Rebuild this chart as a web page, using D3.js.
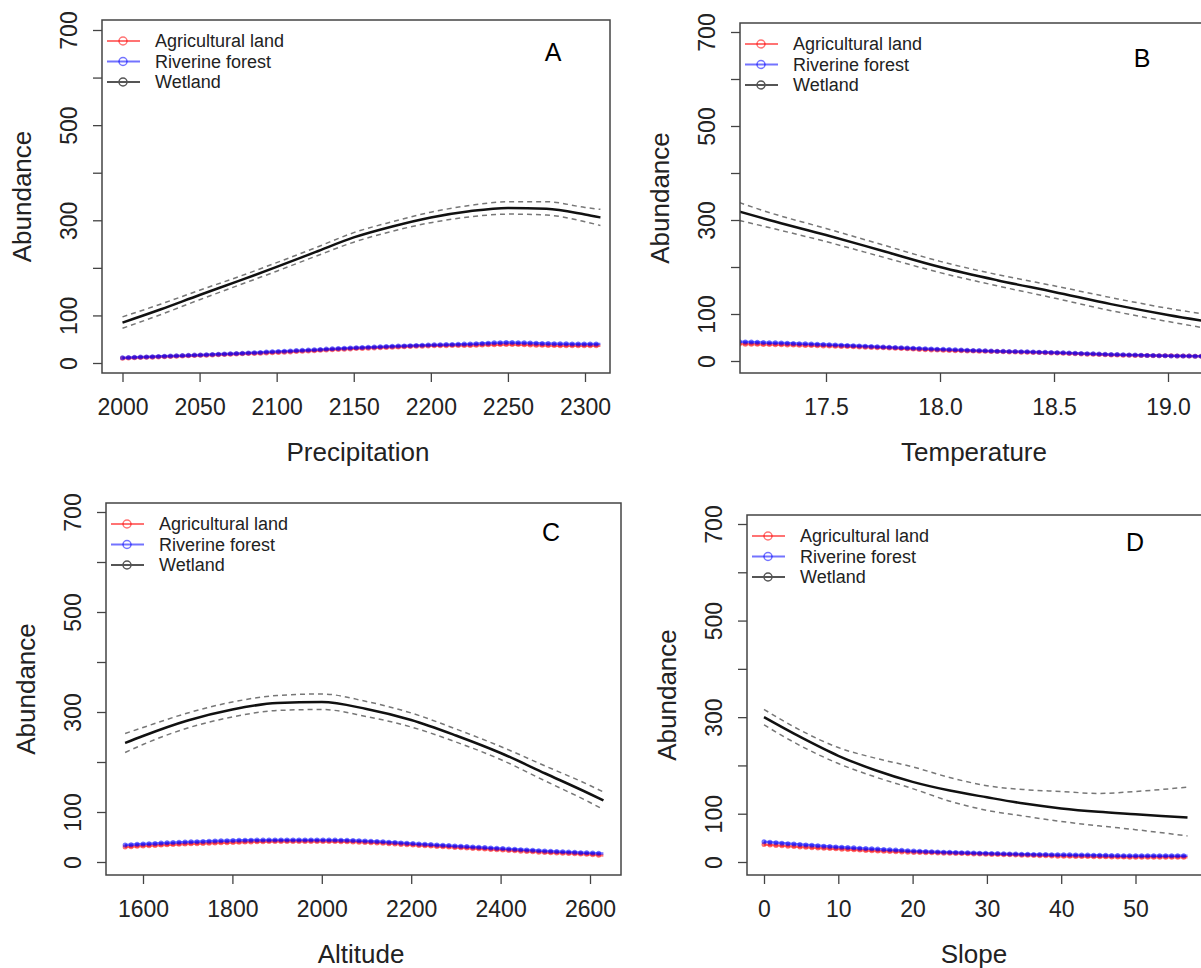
<!DOCTYPE html>
<meta charset="utf-8">
<style>
body { margin: 0; background: #fff; }
text { font-family: "Liberation Sans", Arial, sans-serif; fill: #222; }
.tick line { stroke: #444; stroke-width: 1.3px; }
.frame { fill: none; stroke: #444; stroke-width: 1.5px; }
.ci { fill: none; stroke: #777; stroke-width: 1.5px; stroke-dasharray: 5,4; }
.wet { fill: none; stroke: #111; stroke-width: 2.5px; }
</style>
<svg width="1201" height="968"></svg>
<script src="https://cdn.jsdelivr.net/npm/d3@7"></script>
<script>

var legendLabels = ["Agricultural land", "Riverine forest", "Wetland"];
var yTicks = [0, 100, 200, 300, 400, 500, 600, 700];
var yTickLabels = ["0", "100", "", "300", "", "500", "", "700"];

// A - precipitation
var precipX = [2000, 2025, 2050, 2075, 2100, 2125, 2150, 2175, 2200, 2225, 2250, 2275, 2300, 2310];
var precipAgri = [10, 13, 16, 19, 22, 26, 30, 33, 36, 37, 39, 37, 36, 36];
var precipRiver = [11, 14, 17, 20, 24, 28, 32, 35, 38, 40, 43, 41, 40, 40];
var precipWet = [85, 113, 143, 172, 202, 233, 264, 287, 306, 319, 326, 324, 312, 306];
var precipWetLo = [73, 102, 133, 163, 193, 224, 254, 277, 295, 307, 313, 311, 297, 289];
var precipWetHi = [97, 124, 153, 181, 211, 242, 274, 297, 317, 331, 339, 339, 327, 323];
var precipTicks = [2000, 2050, 2100, 2150, 2200, 2250, 2300];

// B - temperature
var tempX = [17.12, 17.25, 17.5, 17.75, 18.0, 18.25, 18.5, 18.75, 19.0, 19.2];
var tempAgri = [36, 35, 32, 28, 23, 20, 17, 13, 11, 10];
var tempRiver = [41, 39, 35, 30, 25, 21, 18, 14, 11, 10];
var tempWet = [318, 300, 268, 234, 200, 172, 147, 121, 98, 82];
var tempWetLo = [299, 284, 254, 221, 188, 160, 134, 107, 84, 67];
var tempWetHi = [337, 316, 282, 247, 212, 184, 160, 135, 112, 97];
var tempTicks = [17.5, 18.0, 18.5, 19.0];

// C - altitude
var altX = [1560, 1600, 1700, 1800, 1900, 2000, 2100, 2200, 2300, 2400, 2500, 2600, 2630];
var altAgri = [30, 32, 36, 39, 41, 41, 39, 34, 29, 24, 19, 15, 13];
var altRiver = [34, 36, 40, 43, 44, 44, 42, 37, 32, 27, 22, 18, 17];
var altWet = [238, 252, 283, 305, 318, 320, 306, 284, 253, 218, 177, 136, 123];
var altWetLo = [219, 235, 268, 290, 303, 305, 291, 270, 240, 205, 162, 119, 105];
var altWetHi = [257, 269, 298, 320, 333, 336, 321, 298, 266, 231, 192, 153, 140];
var altTicks = [1600, 1800, 2000, 2200, 2400, 2600];

// D - slope
var slopeX = [0, 5, 10, 15, 20, 25, 30, 35, 40, 45, 50, 57];
var slopeAgri = [36, 31, 27, 23, 20, 18, 16, 14, 12, 11, 10, 10];
var slopeRiver = [42, 36, 31, 27, 23, 20, 18, 16, 15, 14, 13, 13];
var slopeWet = [300, 258, 220, 190, 166, 148, 134, 121, 111, 104, 99, 92];
var slopeWetLo = [284, 240, 204, 176, 152, 126, 107, 95, 84, 75, 67, 54];
var slopeWetHi = [316, 272, 237, 215, 197, 175, 158, 150, 146, 142, 146, 155];
var slopeTicks = [0, 10, 20, 30, 40, 50];

var red = "rgba(255,0,0,0.55)",
    blue = "rgba(0,0,255,0.55)",
    legendColors = [red, blue, "#555"];

// layout measured per panel (box edges, tick anchors, label spots)
var panels = [
  {letter: "A", title: "Precipitation", x: precipX, agri: precipAgri, river: precipRiver,
   wet: precipWet, lo: precipWetLo, hi: precipWetHi, ticks: precipTicks, fmt: d3.format("d"),
   box: [102, 610, 20, 373], xd: [2000, 2300], xr: [122.5, 585], yr: [363, 30],
   lx: 553, ly: 52, tx: 358},
  {letter: "B", title: "Temperature", x: tempX, agri: tempAgri, river: tempRiver,
   wet: tempWet, lo: tempWetLo, hi: tempWetHi, ticks: tempTicks, fmt: d3.format(".1f"),
   box: [740, 1248, 23, 373], xd: [17.5, 19.0], xr: [826, 1168], yr: [361, 32],
   lx: 1142, ly: 58, tx: 974},
  {letter: "C", title: "Altitude", x: altX, agri: altAgri, river: altRiver,
   wet: altWet, lo: altWetLo, hi: altWetHi, ticks: altTicks, fmt: d3.format("d"),
   box: [106, 621, 503, 875], xd: [1600, 2600], xr: [143, 590], yr: [862, 512],
   lx: 551, ly: 532, tx: 361},
  {letter: "D", title: "Slope", x: slopeX, agri: slopeAgri, river: slopeRiver,
   wet: slopeWet, lo: slopeWetLo, hi: slopeWetHi, ticks: slopeTicks, fmt: d3.format("d"),
   box: [747, 1205, 515, 875], xd: [0, 50], xr: [764, 1135.5], yr: [862, 524],
   lx: 1135, ly: 542, tx: 974}
];

var svg = d3.select("svg");

panels.forEach(function(p, i) {
  var L = p.box[0], R = p.box[1], T = p.box[2], B = p.box[3];
  var x = d3.scaleLinear().domain(p.xd).range(p.xr),
      y = d3.scaleLinear().domain([0, 700]).range(p.yr);

  var g = svg.append("g");

  g.append("clipPath").attr("id", "clip" + i)
    .append("rect").attr("x", L).attr("y", T).attr("width", R - L).attr("height", B - T);

  var line = function(vals) {
    return d3.line()
      .x(function(d, j) { return x(p.x[j]); })
      .y(function(d) { return y(d); })
      .curve(d3.curveMonotoneX)(vals);
  };

  var plot = g.append("g").attr("clip-path", "url(#clip" + i + ")");

  [[p.agri, red], [p.river, blue]].forEach(function(s) {
    plot.append("path").attr("d", line(s[0]))
      .attr("fill", "none").attr("stroke", s[1]).attr("stroke-width", 2.5);
    plot.append("path").attr("d", line(s[0]))
      .attr("fill", "none").attr("stroke", s[1]).attr("stroke-width", 5)
      .attr("stroke-linecap", "round").attr("stroke-dasharray", "0,6");
  });

  plot.append("path").attr("class", "ci").attr("d", line(p.lo));
  plot.append("path").attr("class", "ci").attr("d", line(p.hi));
  plot.append("path").attr("class", "wet").attr("d", line(p.wet));

  // axes
  var xa = g.append("g").attr("transform", "translate(0," + B + ")")
    .call(d3.axisBottom(x).tickValues(p.ticks).tickFormat(p.fmt).tickSize(9));
  xa.select(".domain").remove();
  xa.selectAll("text").attr("y", 34).attr("dy", "0.35em").style("font-size", "23px");

  var ya = g.append("g").attr("transform", "translate(" + L + ",0)")
    .call(d3.axisLeft(y).tickValues(yTicks).tickSize(9)
      .tickFormat(function(d, j) { return yTickLabels[j]; }));
  ya.select(".domain").remove();
  ya.selectAll("text")
    .attr("x", null)
    .attr("transform", "translate(-33,0) rotate(-90)")
    .attr("dy", "0.35em")
    .attr("text-anchor", "middle")
    .style("font-size", "23px");

  g.append("rect").attr("class", "frame")
    .attr("x", L).attr("y", T).attr("width", R - L).attr("height", B - T);

  // axis titles
  g.append("text")
    .attr("x", p.tx).attr("y", B + 79).attr("dy", "0.35em")
    .attr("text-anchor", "middle").style("font-size", "26px")
    .text(p.title);

  g.append("text")
    .attr("transform", "translate(" + (L - 80) + "," + ((T + B) / 2) + ") rotate(-90)")
    .attr("dy", "0.35em").attr("text-anchor", "middle").style("font-size", "26px")
    .text("Abundance");

  // legend
  var lg = g.append("g").attr("transform", "translate(" + L + "," + T + ")");
  legendLabels.forEach(function(lab, j) {
    var ry = 21 + j * 20.5;
    lg.append("line").attr("x1", 5).attr("x2", 38).attr("y1", ry).attr("y2", ry)
      .attr("stroke", legendColors[j]).attr("stroke-width", 2);
    lg.append("circle").attr("cx", 21).attr("cy", ry).attr("r", 4)
      .attr("fill", "none").attr("stroke", legendColors[j]).attr("stroke-width", 1.5);
    lg.append("text").attr("x", 53).attr("y", ry).attr("dy", "0.35em")
      .style("font-size", "18px").text(lab);
  });

  g.append("text").attr("x", p.lx).attr("y", p.ly).attr("dy", "0.35em")
    .attr("text-anchor", "middle").style("font-size", "25px").style("fill", "#000")
    .text(p.letter);
});

</script>
